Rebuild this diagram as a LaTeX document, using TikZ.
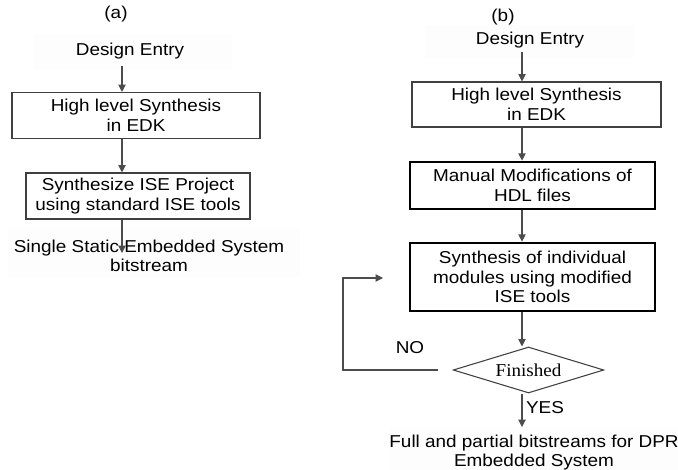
\documentclass[tikz,border=0pt]{standalone}
\usepackage{fontspec}
\setmainfont[FakeStretch=1.1]{Liberation Sans}
\newfontfamily\serifrm[FakeStretch=1.05]{Liberation Serif}
\usetikzlibrary{shapes.geometric,arrows.meta}
\begin{document}
\begin{tikzpicture}[x=0.75pt,y=-0.75pt,
  every node/.style={font=\fontsize{12.9pt}{14.6pt}\selectfont, align=center, inner sep=0pt},
  plain/.style={draw=black!75, line width=0.8pt, fill=white, minimum width=#1},
  heavy/.style={draw=black, line width=2pt, fill=white, minimum width=#1},
  arr/.style={draw=black!70, line width=0.8pt, -{Triangle[length=5.5pt,width=5.5pt]}},
  haze/.style={fill=black!0.8, draw=none}]
\useasboundingbox (0,0) rectangle (678,470);

% ---------- (a) standard flow ----------
\fill[haze] (33,35) rectangle (232,70);
\fill[haze] (8,228) rectangle (300,278);
\node (la) at (116,14) {(a)};
\node (lde) at (130,51) {Design Entry};
\node[plain=186pt, minimum height=34.5pt] (lb1) at (136,115.5) {High level Synthesis\\in EDK};
\node[plain=168pt, minimum height=34.5pt] (lb2) at (138,196) {Synthesize ISE Project\\using standard ISE tools};
\node (lout) at (149,256) {Single Static Embedded System\\bitstream};
\coordinate (ax) at (122,0);
\coordinate (aend) at (122,253);
\draw[arr] (ax |- 0,66) -- (lb1.north -| ax);
\draw[arr] (lb1.south -| ax) -- (lb2.north -| ax);
\draw[arr] (lb2.south -| ax) -- (aend);

% ---------- (b) partial reconfiguration flow ----------
\fill[haze] (425,25) rectangle (635,58);
\fill[haze] (390,428) rectangle (678,470);
\node (rb) at (503,17) {(b)};
\node (rde) at (530,40) {Design Entry};
\node[plain=186.75pt, minimum height=33.75pt] (rb1) at (536.5,104.5) {High level Synthesis\\in EDK};
\node[heavy=183.75pt, minimum height=35.25pt] (rb2) at (532.5,185.5) {Manual Modifications of\\HDL files};
\node[heavy=183.75pt, minimum height=51pt] (rb3) at (532.5,277) {Synthesis of individual\\modules using modified\\ISE tools};
\node[diamond, draw=black!75, line width=0.8pt, fill=white, minimum width=113pt, minimum height=34.5pt, aspect=3.3, inner sep=0pt] (dec) at (528.5,370) {\serifrm\fontsize{13.6pt}{14pt}\selectfont Finished};
\node (fin) at (534,452.5) {Full and partial bitstreams for DPR\\Embedded System};
\node (no) at (410,348) {NO};
\node (yes) at (545,408) {YES};
\coordinate (bx) at (522,0);
\coordinate (ret0) at (438,370);
\coordinate (ret1) at (343,370);
\coordinate (ret2) at (343,278);
\coordinate (ret3) at (383,278);
\coordinate (bend) at (522,427);
\draw[arr] (rde.south -| bx) ++(0,4) -- (rb1.north -| bx);
\draw[arr] (rb1.south -| bx) -- (rb2.north -| bx);
\draw[arr] (rb2.south -| bx) -- (rb3.north -| bx);
\draw[arr] (rb3.south -| bx) -- (dec.north -| bx);
\draw[arr] (dec.south -| bx) -- (bend);
\draw[arr] (ret0) -- (ret1) -- (ret2) -- (ret3);
\end{tikzpicture}
\end{document}
